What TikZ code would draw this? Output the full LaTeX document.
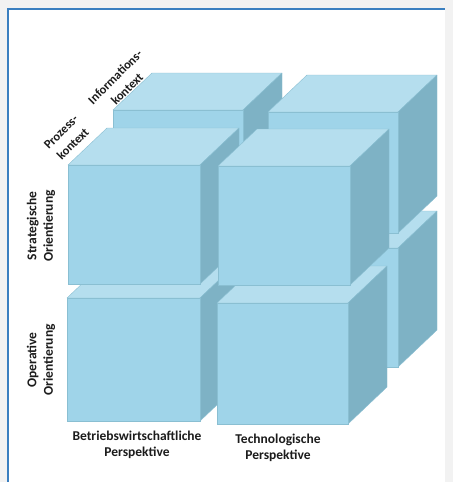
\documentclass[tikz,border=0pt]{standalone}
\usepackage{fontspec}
\setmainfont{Carlito}
\definecolor{bgc}{HTML}{F2F2F2}
\definecolor{borderc}{HTML}{3A7FC0}
\definecolor{frontc}{HTML}{9FD4E9}
\definecolor{topc}{HTML}{B5DEEE}
\definecolor{sidec}{HTML}{7EB2C5}
\definecolor{edgec}{HTML}{8ABFD2}
\definecolor{textc}{HTML}{1C1C1C}
\newcommand\mycube[4]{%
  \filldraw[topc, draw=edgec, line width=0.4pt, line join=round] (#1,#2) -- ({#1+39},{#2-37}) -- ({#3+39},{#2-37}) -- (#3,#2) -- cycle;
  \filldraw[sidec, draw=edgec, line width=0.4pt, line join=round] (#3,#2) -- ({#3+39},{#2-37}) -- ({#3+39},{#4-37}) -- (#3,#4) -- cycle;
  \filldraw[frontc, draw=edgec, line width=0.4pt] (#1,#2) rectangle (#3,#4);
}
\begin{document}
\begin{tikzpicture}[x=1pt,y=-1pt,
  lab/.style={font=\bfseries\fontsize{13.5}{16.5}\selectfont, text=textc, align=center, inner sep=0pt},
  dlab/.style={font=\bfseries\fontsize{12.5}{17}\selectfont, text=textc, align=center, inner sep=0pt, rotate=45}]
\useasboundingbox (0,0) rectangle (453,482);
\fill[bgc] (0,0) rectangle (453,482);
\fill[white] (8,9) rectangle (445,482);
\draw[borderc, line width=1.3pt] (8,482) -- (8,9) -- (445,9);
% back layer
\mycube{113}{247}{243}{367}
\mycube{113}{110}{243}{231}
\mycube{268}{248}{398}{367}
\mycube{268}{112}{398}{233}
% front layer
\mycube{67}{298}{200}{421}
\mycube{68}{165}{200}{284}
\mycube{217}{303}{348}{424}
\mycube{218}{166}{350}{285}
% labels
\node[lab, rotate=90] (strat) at (41,226) {Strategische\\Orientierung};
\node[lab, rotate=90] (oper) at (41,360) {Operative\\Orientierung};
\node[lab] (bw) at (137,445) {Betriebswirtschaftliche\\Perspektive};
\node[lab] (tech) at (278,448) {Technologische\\Perspektive};
\node[dlab] (proz) at (67,138) {Prozess-\\kontext};
\node[dlab] (info) at (121,83) {Informations-\\kontext};
\end{tikzpicture}
\end{document}
